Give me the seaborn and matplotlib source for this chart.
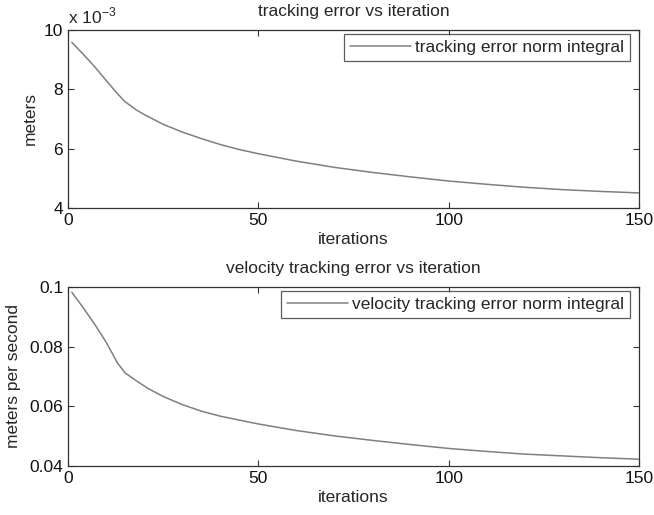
import numpy as np
import pandas as pd
import matplotlib
matplotlib.use("Agg")
import matplotlib.pyplot as plt
import seaborn as sns
from matplotlib.ticker import FuncFormatter

# position tracking error norm integral (meters) per iteration
pos_iter = [1, 4, 7, 10, 13, 15, 18, 20, 25, 30, 35, 40, 45, 50, 60, 70, 80,
            90, 100, 110, 120, 130, 140, 150]
pos_err = [9.58e-3, 9.18e-3, 8.76e-3, 8.30e-3, 7.85e-3, 7.58e-3, 7.30e-3,
           7.15e-3, 6.82e-3, 6.56e-3, 6.34e-3, 6.14e-3, 5.97e-3, 5.83e-3,
           5.58e-3, 5.37e-3, 5.20e-3, 5.05e-3, 4.91e-3, 4.80e-3, 4.70e-3,
           4.62e-3, 4.56e-3, 4.51e-3]

# velocity tracking error norm integral (meters per second) per iteration
vel_iter = [1, 4, 7, 10, 13, 15, 18, 21, 25, 30, 35, 40, 45, 50, 60, 70, 80,
            90, 100, 110, 120, 130, 140, 150]
vel_err = [0.0982, 0.0930, 0.0875, 0.0815, 0.0745, 0.0712, 0.0685, 0.0660,
           0.0633, 0.0606, 0.0584, 0.0567, 0.0554, 0.0541, 0.0519, 0.0501,
           0.0486, 0.0472, 0.0459, 0.0449, 0.0440, 0.0434, 0.0428, 0.0423]

x_ticks = [0, 50, 100, 150]
pos_ticks = [4e-3, 6e-3, 8e-3, 10e-3]
vel_ticks = [0.04, 0.06, 0.08, 0.1]

sns.set_style("white")
plt.rcParams["font.family"] = ["Liberation Sans", "DejaVu Sans"]
plt.rcParams["mathtext.fontset"] = "custom"
plt.rcParams["mathtext.rm"] = "Liberation Sans"

FS = 12.5
LINE = "#7f7f7f"
EDGE = "#333333"

fig = plt.figure(figsize=(6.54, 5.15), dpi=100)
ax1 = fig.add_axes([0.104, 0.596, 0.873, 0.346])
ax2 = fig.add_axes([0.104, 0.095, 0.873, 0.348])

pos_df = pd.DataFrame({"iterations": pos_iter, "err": pos_err})
vel_df = pd.DataFrame({"iterations": vel_iter, "err": vel_err})

sns.lineplot(data=pos_df, x="iterations", y="err", ax=ax1, color=LINE,
             linewidth=1.1, label="tracking error norm integral")
sns.lineplot(data=vel_df, x="iterations", y="err", ax=ax2, color=LINE,
             linewidth=1.1, label="velocity tracking error norm integral")

for ax in (ax1, ax2):
    ax.set_xlim(0, 150)
    ax.set_xticks(x_ticks)
    ax.tick_params(direction="in", length=4, width=0.8, colors=EDGE,
                   labelcolor="#111111", labelsize=FS,
                   top=True, right=True, bottom=True, left=True)
    for s in ax.spines.values():
        s.set_color(EDGE)
        s.set_linewidth(0.9)
    ax.set_xlabel("iterations", fontsize=FS, labelpad=3)
    leg = ax.legend(loc="upper right", bbox_to_anchor=(0.984, 0.978),
                    fontsize=FS, handlelength=3.5, frameon=True,
                    fancybox=False, borderpad=0.36, borderaxespad=0.0,
                    handletextpad=0.2)
    leg.get_frame().set_edgecolor(EDGE)
    leg.get_frame().set_linewidth(0.9)

ax1.set_ylim(4e-3, 10e-3)
ax1.set_yticks(pos_ticks)
ax1.yaxis.set_major_formatter(FuncFormatter(lambda v, p: f"{v * 1e3:g}"))
ax1.set_ylabel("meters", fontsize=FS, labelpad=4)
ax1.set_title("tracking error vs iteration", fontsize=FS, pad=10)
ax1.annotate(r"x 10$^{-3}$", xy=(0, 1), xycoords="axes fraction",
             xytext=(0, 5), textcoords="offset points",
             fontsize=FS, ha="left", va="baseline")

ax2.set_ylim(0.04, 0.1)
ax2.set_yticks(vel_ticks)
ax2.yaxis.set_major_formatter(FuncFormatter(lambda v, p: f"{v:g}"))
ax2.set_ylabel("meters per second", fontsize=FS, labelpad=6)
ax2.set_title("velocity tracking error vs iteration", fontsize=FS, pad=10)

fig.savefig("out.png", dpi=100)
